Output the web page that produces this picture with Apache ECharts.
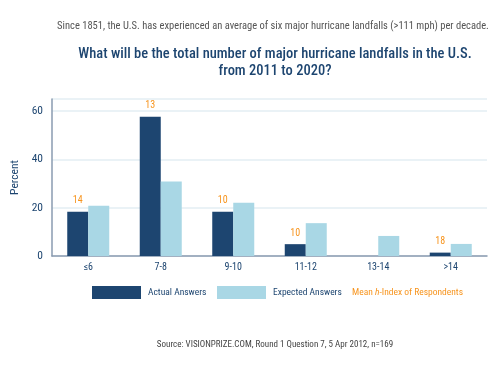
<!DOCTYPE html>
<html>
<head>
<meta charset="utf-8">
<script src="https://cdn.jsdelivr.net/npm/echarts@6/dist/echarts.min.js"></script>
<style>
html, body { margin: 0; padding: 0; background: #fff; }
#chart { width: 500px; height: 370px; }
</style>
</head>
<body>
<div id="chart"></div>
<script>
var categories = ['≤6', '7-8', '9-10', '11-12', '13-14', '>14'];
var actualAnswers = [18.3, 57.6, 18.3, 4.9, 0, 1.4];
var expectedAnswers = [20.8, 30.8, 22, 13.6, 8.3, 5];
var hIndexLabels = ['14', '13', '10', '10', '', '18'];

var font = '"Roboto Condensed", "DejaVu Sans Condensed", sans-serif';
var navy = '#1d4570';
var lightBlue = '#a9d7e5';
var orange = '#f7941d';

var myChart = echarts.init(document.getElementById('chart'));

var option = {
    backgroundColor: '#fff',
    textStyle: { fontFamily: font },
    title: [
        {
            text: 'Since 1851, the U.S. has experienced an average of six major hurricane landfalls (>111 mph) per decade.',
            left: 268, top: 16, textAlign: 'center',
            textStyle: { fontSize: 10.5, fontWeight: 'normal', color: '#555', fontFamily: font }
        },
        {
            text: 'What will be the total number of major hurricane landfalls in the U.S.\nfrom 2011 to 2020?',
            left: 270, top: 41, textAlign: 'center',
            textStyle: { fontSize: 14.5, fontWeight: 500, color: '#1d4570', lineHeight: 17, fontFamily: font }
        },
        {
            text: 'Source: VISIONPRIZE.COM, Round 1 Question 7, 5 Apr 2012, n=169',
            left: 270, top: 335, textAlign: 'center',
            textStyle: { fontSize: 9, fontWeight: 'normal', color: '#444', fontFamily: font }
        }
    ],
    legend: [
        {
            left: 92, top: 286, padding: 0,
            itemWidth: 49, itemHeight: 13, itemGap: 0,
            icon: 'rect',
            textStyle: { fontSize: 9.5, color: navy, fontFamily: font, padding: [0, 0, 0, 2] },
            data: ['Actual Answers']
        },
        {
            left: 217, top: 286, padding: 0,
            itemWidth: 49, itemHeight: 13, itemGap: 0,
            icon: 'rect',
            textStyle: { fontSize: 9.5, color: navy, fontFamily: font, padding: [0, 0, 0, 2] },
            data: ['Expected Answers']
        }
    ],
    graphic: [
        {
            type: 'text', left: 352, top: 288,
            style: {
                text: '{a|Mean }{b|h}{a|-Index of Respondents}',
                rich: {
                    a: { fill: orange, fontSize: 9.5, fontFamily: font },
                    b: { fill: orange, fontSize: 9.5, fontStyle: 'italic', fontFamily: font }
                }
            }
        }
    ],
    grid: { left: 52, right: 13, top: 99, bottom: 114, containLabel: false },
    xAxis: {
        type: 'category',
        data: categories,
        axisLine: { lineStyle: { color: '#8a9bb0', width: 1.5 } },
        axisTick: { show: false },
        axisLabel: { color: navy, fontSize: 10, margin: 6, fontFamily: font }
    },
    yAxis: {
        type: 'value',
        min: 0, max: 65, interval: 20,
        name: 'Percent',
        nameLocation: 'middle',
        nameGap: 30,
        nameRotate: 90,
        nameTextStyle: { color: navy, fontSize: 11.5, fontFamily: font },
        axisLine: { show: true, lineStyle: { color: '#8a9bb0', width: 1.5 } },
        axisTick: { show: false },
        axisLabel: {
            color: navy, fontSize: 11.5, margin: 9, fontFamily: font,
            showMaxLabel: false
        },
        splitLine: { lineStyle: { color: '#e3eef3', width: 1.5 } }
    },
    series: [
        {
            name: 'Actual Answers',
            type: 'bar',
            data: actualAnswers,
            barWidth: 21,
            barGap: '0%',
            itemStyle: { color: navy },
            label: {
                show: true, position: 'top', distance: 6,
                color: orange, fontSize: 10, fontFamily: font,
                formatter: function (p) { return hIndexLabels[p.dataIndex]; }
            }
        },
        {
            name: 'Expected Answers',
            type: 'bar',
            data: expectedAnswers,
            barWidth: 21,
            barGap: '0%',
            itemStyle: { color: lightBlue }
        }
    ]
};

myChart.setOption(option);
</script>
</body>
</html>
